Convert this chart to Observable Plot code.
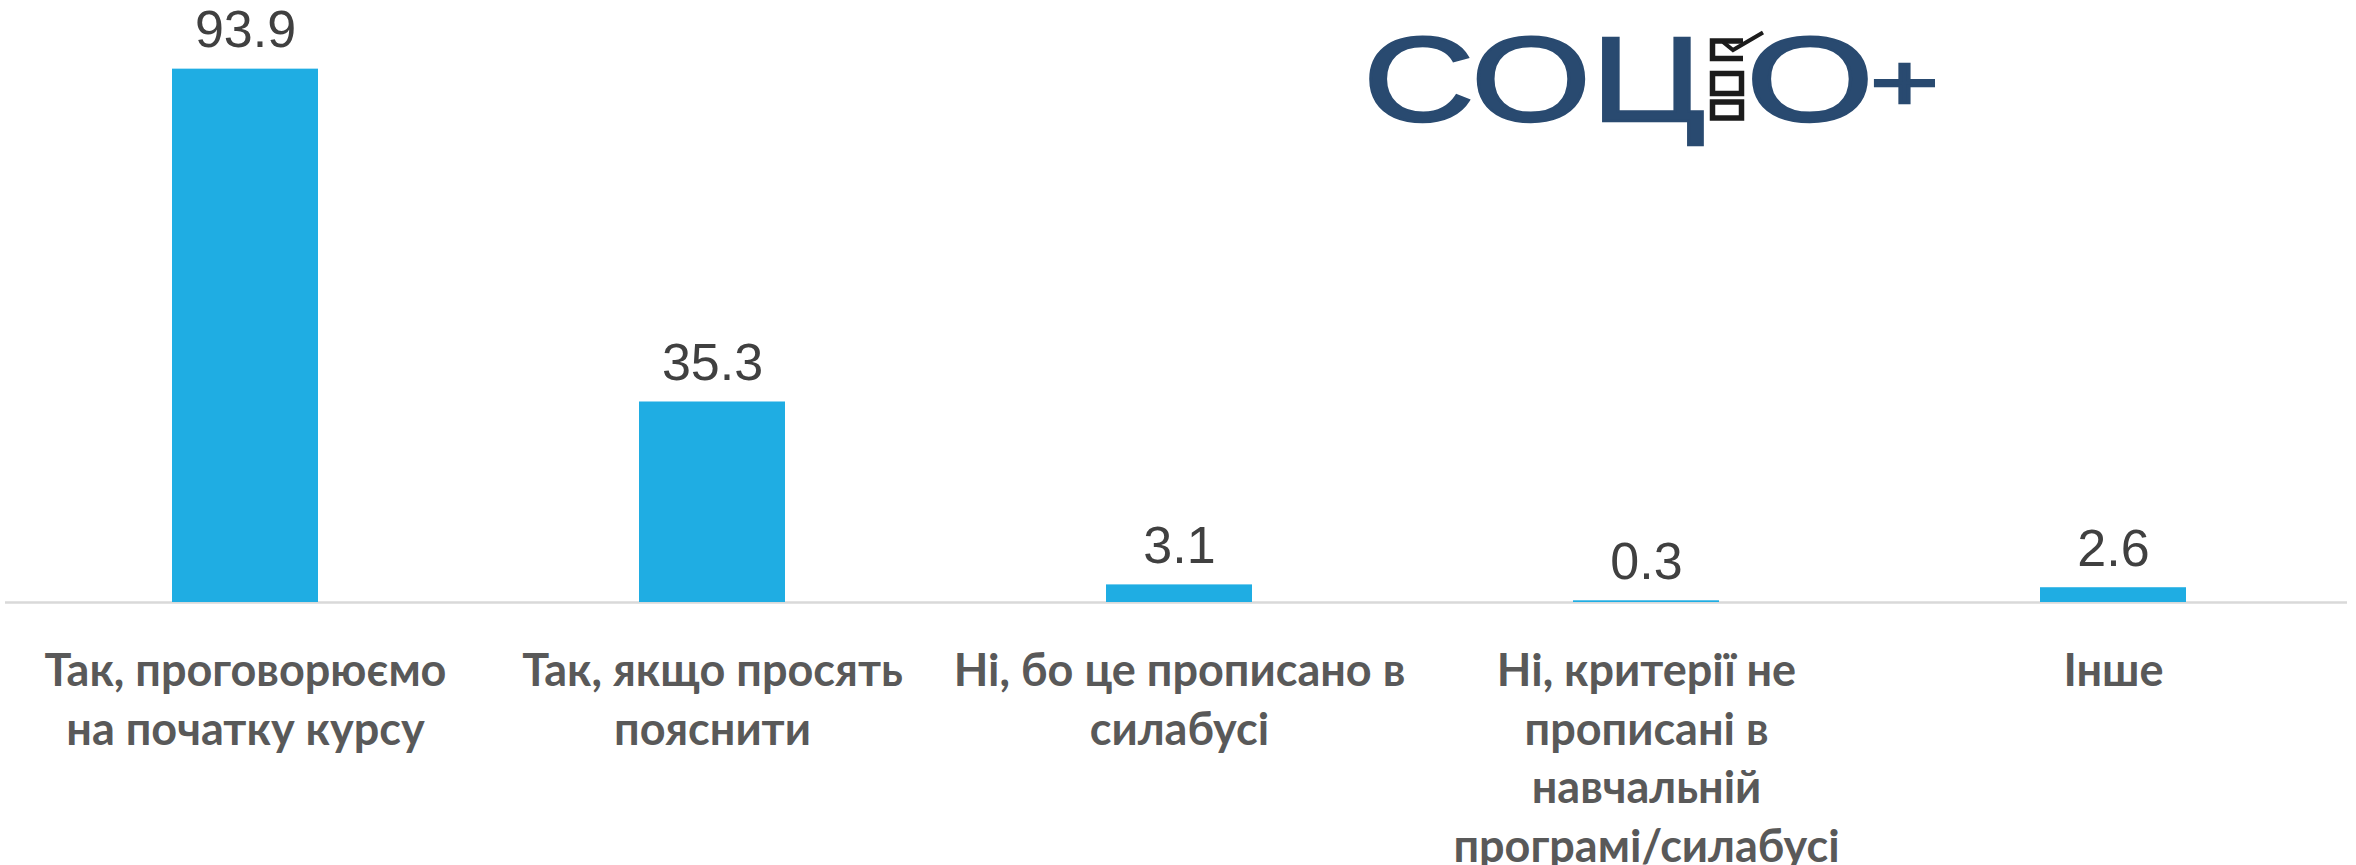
<!DOCTYPE html>
<html>
<head>
<meta charset="utf-8">
<script src="https://cdn.jsdelivr.net/npm/d3@7"></script>
<script src="https://cdn.jsdelivr.net/npm/@observablehq/plot@0.6"></script>
<style>
  html, body { margin: 0; padding: 0; background: #fff; }
  #wrap { position: relative; width: 2356px; height: 865px; overflow: hidden; }
  #logo { position: absolute; left: 0; top: 0; pointer-events: none; }
</style>
</head>
<body>
<div id="wrap">
  <div id="chart"></div>
  <svg id="logo" width="2356" height="865" xmlns="http://www.w3.org/2000/svg">
    <g fill="#294a70" stroke="#294a70" stroke-width="2.5" font-family="'Liberation Sans', Arial, sans-serif">
      <text x="1363" y="121" font-size="120" textLength="342" lengthAdjust="spacingAndGlyphs">СОЦ</text>
      <text x="1746" y="121" font-size="120" textLength="128" lengthAdjust="spacingAndGlyphs">О</text>
      <text x="1870" y="110" font-size="80" textLength="69" lengthAdjust="spacingAndGlyphs">+</text>
    </g>
    <g fill="none" stroke="#1c1c1c" stroke-width="5.5">
      <path d="M1743,41 L1712.5,41 L1712.5,58.5 L1743,58.5"/>
      <rect x="1712.5" y="73.5" width="29" height="20"/>
      <rect x="1712.5" y="102" width="29" height="16"/>
    </g>
    <polyline points="1723,42 1733,50 1763,32.5" fill="none" stroke="#1c1c1c" stroke-width="4"/>
  </svg>
</div>
<script>
// Categories (keys), their displayed tick labels, and the values
const categories = ["yes_start", "yes_ask", "no_syllabus", "no_criteria", "other"];
const tickLabels = [
  "Так, проговорюємо\nна початку курсу",
  "Так, якщо просять\nпояснити",
  "Ні, бо це прописано в\nсилабусі",
  "Ні, критерії не\nпрописані в\nнавчальній\nпрограмі/силабусі",
  "Інше"
];
const values = [93.9, 35.3, 3.1, 0.3, 2.6];

const data = categories.map((c, i) => ({category: c, value: values[i]}));

const chart = Plot.plot({
  width: 2356,
  height: 865,
  marginTop: 34,
  marginBottom: 263,
  marginLeft: 5,
  marginRight: 9,
  style: {background: "transparent", overflow: "visible"},
  x: {domain: categories, paddingInner: 0.688, paddingOuter: 0.344, insetLeft: 5, label: null},
  y: {domain: [0, 100], axis: null},
  marks: [
    Plot.ruleY([0], {stroke: "#d9d9d9", strokeWidth: 2.6}),
    Plot.barY(data, {x: "category", y: "value", fill: "#1fade3"}),
    Plot.text(data, {
      x: "category", y: "value",
      text: d => d.value.toFixed(1),
      lineAnchor: "bottom", dy: -22,
      fontSize: 52, fontFamily: "'Liberation Sans', Arial, sans-serif",
      fill: "#404040"
    }),
    Plot.axisX({
      tickSize: 0, tickPadding: 42,
      fontSize: 45, fontWeight: "bold", fontFamily: "Lato, 'Open Sans', sans-serif",
      fill: "#595959", lineHeight: 1.3,
      tickFormat: d => tickLabels[categories.indexOf(d)],
      label: null
    })
  ]
});
document.getElementById("chart").appendChild(chart);
</script>
</body>
</html>
